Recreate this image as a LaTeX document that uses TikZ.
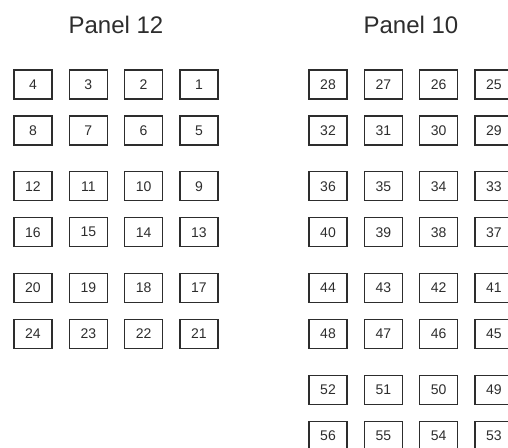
\documentclass[tikz,border=0pt]{standalone}
\usepackage{fontspec}
\setmainfont{Liberation Sans}
\definecolor{boxgray}{RGB}{45,45,45}
\usetikzlibrary{positioning}

\begin{document}
\begin{tikzpicture}[x=1pt,y=-1pt,
  cell/.style={draw=boxgray,line width=1.2pt,minimum width=38pt,minimum height=29pt,
    inner sep=0pt,font=\fontsize{14}{16}\selectfont,text=boxgray},
  title/.style={font=\fontsize{24}{28}\selectfont,text=boxgray}
]
  \useasboundingbox (0,0) rectangle (508,447);
  % Titles
  \node[title] (t12) at (116,24.5) {Panel 12};
  \node[title] (t10) at (411,24.5) {Panel 10};

  % Panel 12: numbered right to left
  \foreach \r in {0,...,5} {
    \foreach \c in {0,...,3} {
      \pgfmathtruncatemacro{\num}{4*\r+4-\c}
      \pgfmathsetmacro{\ypos}{84.5+101.7*int(\r/2)+46*mod(\r,2)}
      \node[cell] (c\num) at (33+55.3*\c,\ypos) {\num};
    }
  }

  % Panel 10
  \foreach \r in {0,...,7} {
    \foreach \c in {0,...,3} {
      \pgfmathtruncatemacro{\num}{24+4*\r+4-\c}
      \pgfmathsetmacro{\ypos}{84.5+101.7*int(\r/2)+46*mod(\r,2)}
      \node[cell] (c\num) at (328+55.3*\c,\ypos) {\num};
    }
  }
\end{tikzpicture}
\end{document}
